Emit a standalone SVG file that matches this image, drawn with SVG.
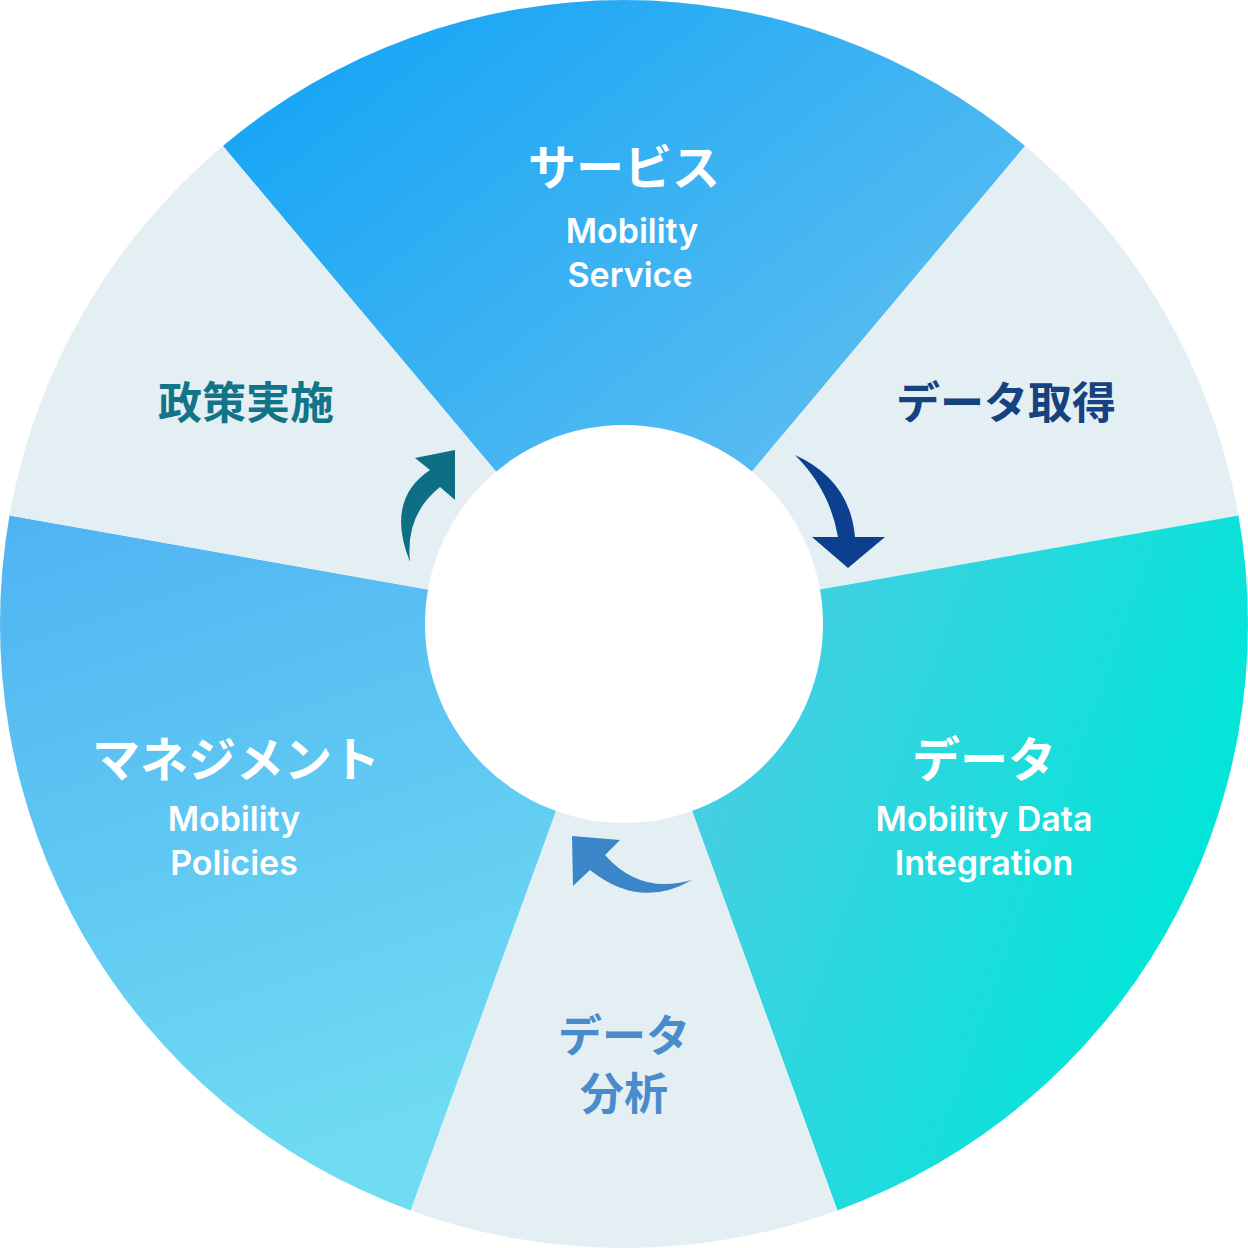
<svg xmlns="http://www.w3.org/2000/svg" width="1248" height="1248" viewBox="0 0 1248 1248">
<defs>
<linearGradient id="gTop" x1="0" y1="0" x2="1" y2="1"><stop offset="0" stop-color="#0ea2f6"/><stop offset="1" stop-color="#74c6ee"/></linearGradient>
<linearGradient id="gRight" x1="0" y1="0" x2="1" y2="0.4"><stop offset="0" stop-color="#5cc6e6"/><stop offset="1" stop-color="#00e6d8"/></linearGradient>
<linearGradient id="gLeft" x1="0" y1="0" x2="0.3" y2="1"><stop offset="0" stop-color="#4fb3f3"/><stop offset="1" stop-color="#6fdcf2"/></linearGradient>
<style>
.gray{fill:#e3eff3}
.jp{font-family:"Noto Sans CJK JP",sans-serif;font-weight:bold;text-anchor:middle}
.en{font-family:Inter,"Noto Sans",sans-serif;font-weight:600;text-anchor:middle;fill:#fff;font-size:34px}
</style>
</defs>
<g id="sectors">
<path id="s-top" d="M624,624 L222.9,146 A624,624 0 0 1 1025.1,146 Z" fill="url(#gTop)"/>
<path id="s-tr" class="gray" d="M624,624 L1025.1,146 A624,624 0 0 1 1238.5,515.6 Z"/>
<path id="s-right" d="M624,624 L1238.5,515.6 A624,624 0 0 1 837.4,1210.4 Z" fill="url(#gRight)"/>
<path id="s-bottom" class="gray" d="M624,624 L837.4,1210.4 A624,624 0 0 1 410.6,1210.4 Z"/>
<path id="s-left" d="M624,624 L410.6,1210.4 A624,624 0 0 1 9.5,515.6 Z" fill="url(#gLeft)"/>
<path id="s-tl" class="gray" d="M624,624 L9.5,515.6 A624,624 0 0 1 222.9,146 Z"/>
<circle cx="624" cy="624" r="199" fill="#fff"/>
</g>
<g id="connectors">
<path d="M795,455 Q850,480 855,537 L885,537 L848,568 L812,537 L838,537 Q830,490 795,455 Z" fill="#0d3f8f"/>
<path d="M692,880 Q640,895 605,855 L620,840 L572,836 L573,886 L590,870 Q640,910 692,880 Z" fill="#3a86c9"/>
<path d="M410,562 Q385,500 430,470 L415,458 L455,450 L455,500 L440,487 Q405,515 410,562 Z" fill="#0e6f84"/>
</g>
<g id="n-service">
<text class="jp" x="624" y="185" font-size="48" fill="#fff">サービス</text>
<text class="en" x="632" y="243">Mobility</text>
<text class="en" x="630" y="287">Service</text>
</g>
<g id="n-acquire"><text class="jp" x="1006" y="419" font-size="44" fill="#16427f">データ取得</text></g>
<g id="n-data">
<text class="jp" x="984" y="777" font-size="48" fill="#fff">データ</text>
<text class="en" x="984" y="831">Mobility Data</text>
<text class="en" x="984" y="875">Integration</text>
</g>
<g id="n-analysis">
<text class="jp" x="624" y="1052" font-size="44" fill="#4a8bcb">データ</text>
<text class="jp" x="624" y="1110" font-size="44" fill="#4a8bcb">分析</text>
</g>
<g id="n-management">
<text class="jp" x="236" y="777" font-size="48" fill="#fff">マネジメント</text>
<text class="en" x="234" y="831">Mobility</text>
<text class="en" x="234" y="875">Policies</text>
</g>
<g id="n-policy"><text class="jp" x="246" y="419" font-size="44" fill="#137488">政策実施</text></g>
</svg>
